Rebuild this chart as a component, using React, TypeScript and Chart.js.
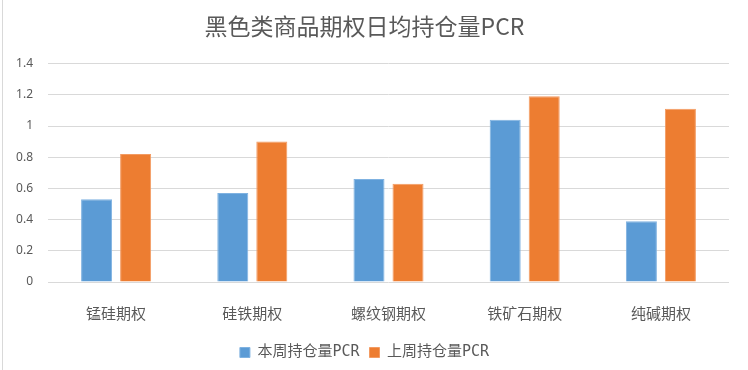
import React, { useEffect, useRef } from "react";
import { Chart, registerables } from "chart.js";

Chart.register(...registerables);

const categories = ["锰硅期权", "硅铁期权", "螺纹钢期权", "铁矿石期权", "纯碱期权"];
const thisWeek = [0.53, 0.57, 0.66, 1.04, 0.39];
const lastWeek = [0.82, 0.9, 0.63, 1.19, 1.11];
const seriesNames = ["本周持仓量PCR", "上周持仓量PCR"];
const titleText = "黑色类商品期权日均持仓量PCR";
const yTicks = { min: 0, max: 1.4, step: 0.2 };

const GRAY = "#595959";
const SIMLIKE = '"DejaVu Sans Mono", "Noto Sans CJK SC", sans-serif';

export default function App() {
  const ref = useRef<HTMLCanvasElement | null>(null);

  useEffect(() => {
    document.body.style.margin = "0";
    const ctx = ref.current!.getContext("2d")!;
    const chart = new Chart(ctx, {
      type: "bar",
      data: {
        labels: categories,
        datasets: [
          {
            label: seriesNames[0],
            data: thisWeek,
            backgroundColor: "#5B9BD5",
            borderColor: "#7FB2E1",
            borderWidth: 1,
            categoryPercentage: 0.573,
            barPercentage: 0.795,
          },
          {
            label: seriesNames[1],
            data: lastWeek,
            backgroundColor: "#ED7D31",
            borderColor: "#F39B62",
            borderWidth: 1,
            categoryPercentage: 0.573,
            barPercentage: 0.795,
          },
        ],
      },
      options: {
        animation: false,
        responsive: false,
        maintainAspectRatio: false,
        layout: { padding: { left: 0, right: 19, top: 0, bottom: 0 } },
        plugins: {
          title: {
            display: true,
            text: titleText,
            color: GRAY,
            font: { family: '"Noto Sans CJK SC", sans-serif', size: 23, weight: "normal" },
            padding: { top: 12, bottom: 24 },
          },
          legend: {
            position: "bottom",
            labels: {
              boxWidth: 10,
              boxHeight: 10,
              padding: 10,
              color: GRAY,
              font: { family: SIMLIKE, size: 15 },
            },
          },
          tooltip: { enabled: false },
        },
        scales: {
          x: {
            grid: { display: false },
            border: { display: false },
            ticks: {
              color: GRAY,
              padding: 14,
              font: { family: '"Noto Sans CJK SC", sans-serif', size: 15 },
              maxRotation: 0,
            },
            afterFit: (s: any) => {
              s.height = 53;
            },
          },
          y: {
            min: yTicks.min,
            max: yTicks.max,
            ticks: {
              stepSize: yTicks.step,
              color: GRAY,
              padding: 15,
              font: { family: '"Noto Sans", sans-serif', size: 12 },
              callback: (v: any) => String(Math.round(Number(v) * 10) / 10),
            },
            grid: { color: "#D9D9D9", lineWidth: 1, drawTicks: false },
            border: { display: false },
            afterFit: (s: any) => {
              s.width = 48;
            },
          },
        },
      },
    });
    return () => chart.destroy();
  }, []);

  return (
    <div style={{ position: "relative", width: 748, height: 370, background: "#fff" }}>
      <div
        style={{
          position: "absolute",
          left: 2,
          top: 0,
          width: 1,
          height: 370,
          background: "#D9D9D9",
        }}
      />
      <canvas ref={ref} width={748} height={370} style={{ display: "block" }} />
    </div>
  );
}
